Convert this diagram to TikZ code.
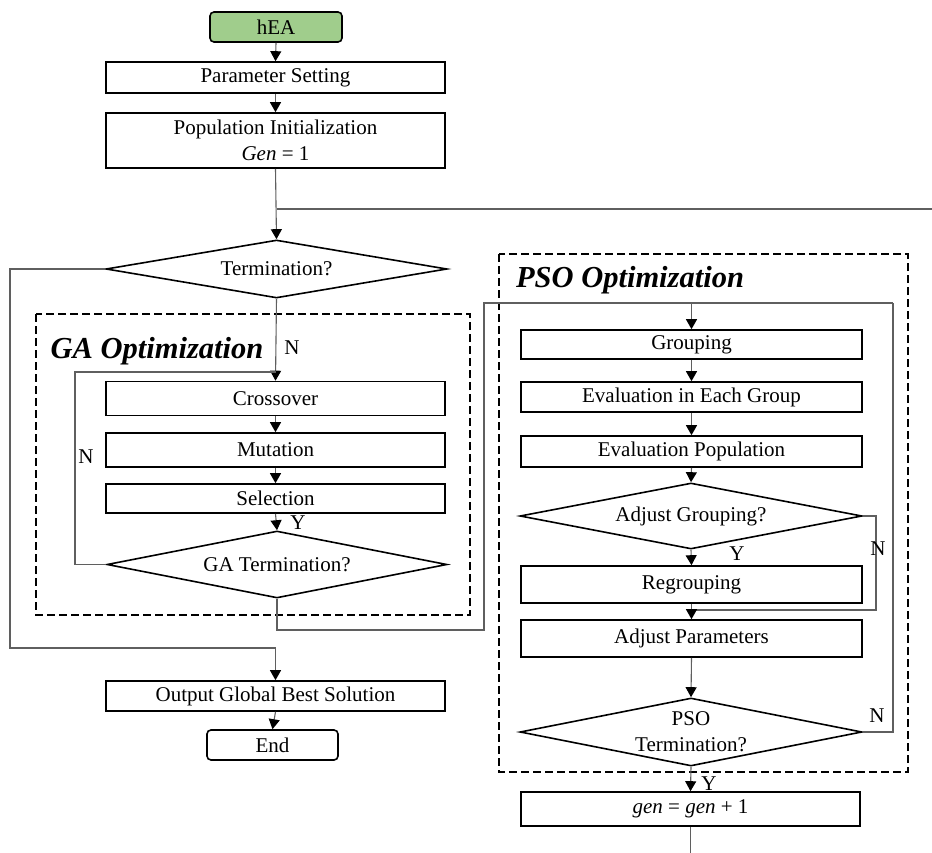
\documentclass[tikz,border=0pt]{standalone}
\usepackage{fontspec}
\setmainfont{Liberation Serif}
\usetikzlibrary{shapes.geometric,arrows.meta}
\definecolor{heagreen}{RGB}{160,205,140}
\definecolor{conngray}{RGB}{95,95,95}
\tikzset{
  base/.style={font=\fontsize{21}{26}\selectfont, inner sep=0pt},
  pbox/.style={base, draw=black, line width=1.6pt, minimum height=31pt, minimum width=339pt},
  rbox/.style={pbox, rounded corners=4pt, minimum width=132pt},
  dia/.style={base, draw=black, line width=1.6pt, diamond, aspect=6},
  conn/.style={draw=conngray, line width=1.1pt},
  arr/.style={conn, -{Triangle[width=11pt,length=10pt,color=black]}},
  grp/.style={draw=black, line width=2.2pt, dash pattern=on 8pt off 4pt},
  ttl/.style={font=\fontsize{30.5}{34}\selectfont\bfseries\itshape, inner sep=0pt},
  lbl/.style={base}
}
\begin{document}
\begin{tikzpicture}[x=1pt,y=-1pt]
\useasboundingbox (0,0) rectangle (932,853);
% group frames
\draw[grp] (36,314) rectangle (470,615);
\draw[grp] (499,254) rectangle (908,772);
\node[ttl] (gatitle) at (157,351) {GA Optimization};
\node[ttl] (psotitle) at (630,280) {PSO Optimization};
% left column
\node[rbox, fill=heagreen, minimum height=30pt] (hea) at (276,27) {hEA};
\node[pbox] (param) at (275.5,77.5) {Parameter Setting};
\node[pbox, minimum height=55pt, align=center] (pop) at (275.5,140.5) {Population Initialization\\\textit{Gen} = 1};
\node[dia, minimum width=341pt, minimum height=58pt] (term) at (276.5,269) {Termination?};
\node[pbox, minimum height=34pt] (cross) at (275.5,398.5) {Crossover};
\node[pbox, minimum height=34pt] (mut) at (275.5,450) {Mutation};
\node[pbox, minimum height=29pt] (sel) at (275.5,498.5) {Selection};
\node[dia, minimum width=340pt, minimum height=67pt] (gaterm) at (277,564.5) {GA Termination?};
\node[pbox, minimum height=30pt] (out) at (275.5,696) {Output Global Best Solution};
\node[rbox, minimum height=30pt, minimum width=131pt] (endn) at (272.5,745) {End};
% right column
\node[pbox, minimum width=341pt, minimum height=29pt] (grpg) at (691.5,344.5) {Grouping};
\node[pbox, minimum width=341pt, minimum height=30pt] (eeg) at (691.5,397) {Evaluation in Each Group};
\node[pbox, minimum width=341pt, minimum height=31pt] (evp) at (691.5,451.5) {Evaluation Population};
\node[dia, minimum width=342pt, minimum height=66pt] (adj) at (691,516) {Adjust Grouping?};
\node[pbox, minimum width=341pt, minimum height=37pt] (regr) at (691.5,584.5) {Regrouping};
\node[pbox, minimum width=341pt, minimum height=37pt] (adjp) at (691.5,638.5) {Adjust Parameters};
\node[dia, minimum width=342pt, minimum height=68pt] (psoterm) at (691,732) {};
\node[base, align=center] (psotermtxt) at (psoterm.center) {PSO\\Termination?};
\node[pbox, minimum width=339pt, minimum height=34pt] (gen) at (690.5,809) {\textit{gen} = \textit{gen} + 1};
% coordinates
\coordinate (eR) at (932,209);
\coordinate (j1) at (276.5,209);
\coordinate (lft) at (10,648);
\coordinate (gl) at (75,372);
\coordinate (g1) at (484,630);
\coordinate (pr) at (893,303);
\coordinate (ar) at (876,610);
\coordinate (bot) at (690.5,853);
% connectors
\draw[arr] (hea.south) -- (param.north);
\draw[arr] (param.south) -- (pop.north);
\draw[arr] (pop.south) -- (term.north);
\draw[conn] (eR) -- (j1);
\draw[arr] (term.west) -| (lft) -| (out.north);
\draw[arr] (term.south) -- (cross.north);
\draw[conn] (gaterm.west) -| (gl) -- (gl -| cross.north);
\draw[arr] (cross.south) -- (mut.north);
\draw[arr] (mut.south) -- (sel.north);
\draw[arr] (sel.south) -- (gaterm.north);
\draw[conn] (gaterm.south) |- (g1) |- (pr);
\draw[conn] (psoterm.east) -| (pr);
\draw[arr] (grpg.north |- pr) -- (grpg.north);
\draw[arr] (grpg.south) -- (eeg.north);
\draw[arr] (eeg.south) -- (evp.north);
\draw[arr] (evp.south) -- (adj.north);
\draw[arr] (adj.south) -- (regr.north);
\draw[conn] (adj.east) -| (ar) -- (ar -| regr.south);
\draw[arr] (regr.south) -- (adjp.north);
\draw[arr] (adjp.south) -- (psoterm.north);
\draw[arr] (psoterm.south) -- (gen.north);
\draw[conn] (gen.south) -- (bot);
\draw[arr] (out.south) -- (endn.north);
% labels
\node[lbl] (nterm) at (292,348) {N};
\node[lbl] (nga) at (86,457) {N};
\node[lbl] (yga) at (298,523) {Y};
\node[lbl] (yadj) at (737,554) {Y};
\node[lbl] (nadj) at (878,549) {N};
\node[lbl] (npso) at (877,716) {N};
\node[lbl] (ypso) at (709,784) {Y};
\end{tikzpicture}
\end{document}
